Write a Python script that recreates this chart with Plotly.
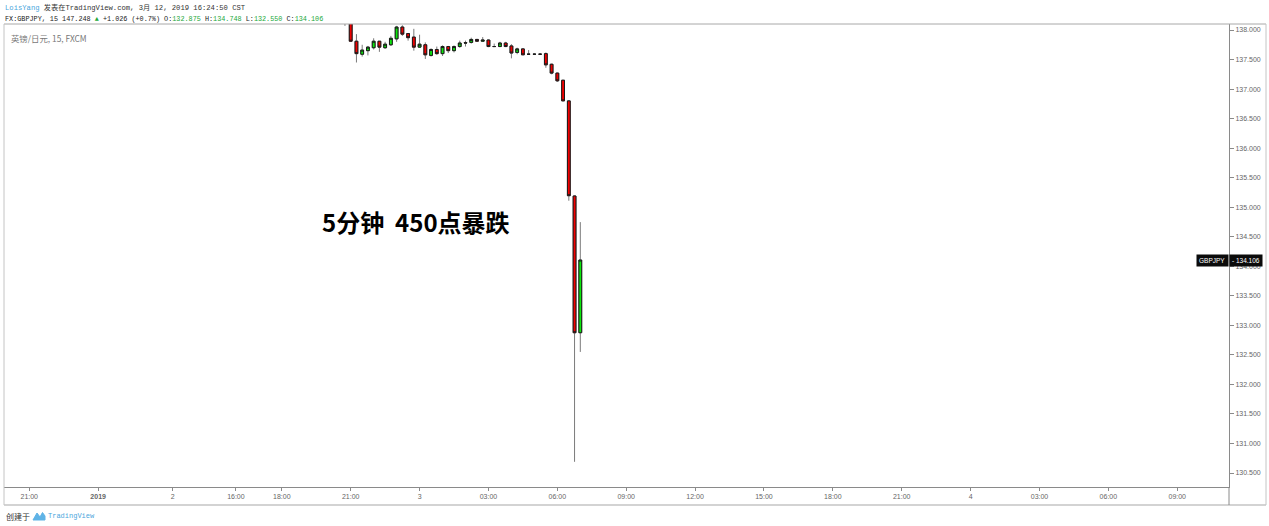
import plotly.graph_objects as go

# ---------------- data ----------------
slots = list(range(-1, 41))  # 15-minute candle slots, slot 0 = 21:00
opens = [138.30, 138.15, 137.81, 137.59, 137.65, 137.70, 137.81, 137.70, 137.75, 137.85, 138.05,
         137.94, 137.88, 137.71, 137.75, 137.57, 137.67, 137.60, 137.72, 137.65, 137.72,
         137.785, 137.79, 137.84, 137.81, 137.83, 137.72, 137.72, 137.78, 137.73, 137.62,
         137.68, 137.59, 137.59, 137.59, 137.60, 137.42, 137.27, 137.15, 136.80, 135.19, 132.875]
highs = [138.40, 138.20, 137.93, 137.75, 137.73, 137.86, 137.81, 137.80, 137.90, 138.07, 138.08,
         137.94, 138.02, 137.92, 137.79, 137.69, 137.72, 137.74, 137.73, 137.74, 137.82,
         137.82, 137.87, 137.85, 137.88, 137.84, 137.77, 137.80, 137.80, 137.76, 137.70,
         137.69, 137.66, 137.61, 137.61, 137.62, 137.43, 137.28, 137.15, 136.81, 135.20, 134.748]
lows = [138.07, 137.80, 137.45, 137.55, 137.57, 137.67, 137.63, 137.68, 137.73, 137.80, 137.90,
        137.82, 137.65, 137.70, 137.51, 137.55, 137.58, 137.56, 137.61, 137.62, 137.70,
        137.72, 137.77, 137.80, 137.81, 137.71, 137.72, 137.71, 137.71, 137.52, 137.59,
        137.58, 137.58, 137.58, 137.58, 137.36, 137.25, 137.12, 136.80, 135.11, 130.69, 132.550]
closes = [138.20, 137.81, 137.60, 137.66, 137.71, 137.81, 137.71, 137.76, 137.86, 138.05, 137.93,
          137.87, 137.71, 137.76, 137.58, 137.67, 137.60, 137.72, 137.65, 137.72, 137.78,
          137.78, 137.84, 137.81, 137.83, 137.72, 137.72, 137.78, 137.72, 137.61, 137.68,
          137.58, 137.59, 137.59, 137.59, 137.41, 137.27, 137.14, 136.80, 135.195, 132.875, 134.106]

time_tick_slots = [-56, -44, -31, -20, -12, 0, 12, 24, 36, 48, 60, 72, 84, 96, 108, 120, 132, 144]
time_tick_labels = ["21:00", "<b>2019</b>", "2", "16:00", "18:00", "21:00", "3", "03:00", "06:00",
                    "09:00", "12:00", "15:00", "18:00", "21:00", "4", "03:00", "06:00", "09:00"]
price_ticks = [130.5, 131.0, 131.5, 132.0, 132.5, 133.0, 133.5, 134.0, 134.5,
               135.0, 135.5, 136.0, 136.5, 137.0, 137.5, 138.0]
last_price = 134.106
symbol = "GBPJPY"

# ---------------- layout helpers ----------------
W, H = 1269, 526
PL, PR, PT, PB = 4, 1229, 24, 487


def px(x):
    return (x - PL) / (PR - PL)


def py(y):
    return (PB - y) / (PB - PT)


GREEN = "#0ce80c"
RED = "#f00000"

body_hi = [max(o, c) for o, c in zip(opens, closes)]
body_lo = [min(o, c) for o, c in zip(opens, closes)]

fig = go.Figure()
# wicks (gray)
fig.add_trace(go.Candlestick(
    x=slots, open=opens, high=highs, low=lows, close=closes,
    increasing=dict(line=dict(color="#7a7a7a", width=1), fillcolor=GREEN),
    decreasing=dict(line=dict(color="#7a7a7a", width=1), fillcolor=RED),
    hoverinfo="skip", showlegend=False))
# bodies with dark border
fig.add_trace(go.Candlestick(
    x=slots, open=opens, high=body_hi, low=body_lo, close=closes,
    increasing=dict(line=dict(color="#1a1a1a", width=1), fillcolor=GREEN),
    decreasing=dict(line=dict(color="#1a1a1a", width=1), fillcolor=RED),
    hoverinfo="skip", showlegend=False))

axis_font = dict(family="Liberation Sans, Arial, sans-serif", size=7, color="#666666")

fig.update_layout(
    width=W, height=H,
    margin=dict(l=PL, r=W - PR, t=PT, b=H - PB, pad=0),
    paper_bgcolor="white", plot_bgcolor="white",
    showlegend=False,
    xaxis=dict(
        range=[(PL - 350.7) / 5.74, (PR - 350.7) / 5.74],
        rangeslider=dict(visible=False),
        tickmode="array", tickvals=time_tick_slots, ticktext=time_tick_labels,
        ticks="outside", ticklen=3, tickcolor="#8a8a8a",
        showgrid=False, zeroline=False, automargin=False,
        showline=True, linecolor="#8a8a8a", linewidth=1,
        tickfont=axis_font,
    ),
    yaxis=dict(
        side="right", range=[138 - (PB - 30) / 59.07, 138 + (30 - PT) / 59.07],
        tickmode="array", tickvals=price_ticks,
        ticktext=[f"{v:.3f}" for v in price_ticks],
        ticks="outside", ticklen=4, tickcolor="#8a8a8a",
        showgrid=False, zeroline=False, automargin=False,
        showline=True, linecolor="#8a8a8a", linewidth=1,
        tickfont=axis_font,
    ),
)

# frame
frame_col = "#c4c4c4"
shapes = [
    dict(type="line", xref="paper", yref="paper", x0=px(4), x1=px(1266), y0=py(24), y1=py(24),
         line=dict(color="#a8a8a8", width=1)),
    dict(type="line", xref="paper", yref="paper", x0=px(4), x1=px(4), y0=py(24), y1=py(505),
         line=dict(color=frame_col, width=1)),
    dict(type="line", xref="paper", yref="paper", x0=px(1266), x1=px(1266), y0=py(24), y1=py(505),
         line=dict(color=frame_col, width=1)),
    dict(type="line", xref="paper", yref="paper", x0=px(4), x1=px(1266), y0=py(505), y1=py(505),
         line=dict(color=frame_col, width=1.5)),
    dict(type="line", xref="paper", yref="paper", x0=px(1229), x1=px(1229), y0=py(487), y1=py(505),
         line=dict(color="#8a8a8a", width=1)),
    # TradingView logo
    dict(type="path", xref="paper", yref="paper",
         path=(f"M {px(33)},{py(520)} L {px(37)},{py(513)} L {px(40)},{py(517)} "
               f"L {px(42.5)},{py(512.5)} L {px(45)},{py(516)} L {px(45)},{py(520)} Z"),
         fillcolor="#5fb3e6", line=dict(color="#5fb3e6", width=1)),
]
fig.update_layout(shapes=shapes)

mono = "Liberation Mono, DejaVu Sans Mono, Noto Sans CJK SC, monospace"
green_txt = "#22a839"
ann = [
    dict(xref="paper", yref="paper", x=px(3), y=py(7.5), xanchor="left", yanchor="middle",
         showarrow=False, font=dict(family=mono, size=7.2, color="#333"),
         text="<span style='color:#4ba6dc'>LoisYang</span> 发表在TradingView.com, 3月 12, 2019 16:24:50 CST"),
    dict(xref="paper", yref="paper", x=px(3), y=py(19), xanchor="left", yanchor="middle",
         showarrow=False, font=dict(family=mono, size=6.8, color="#222"),
         text=(f"FX:GBPJPY, 15 147.248 <span style='color:{green_txt}'>▲</span> +1.026 (+0.7%) "
               f"O:<span style='color:{green_txt}'>132.875</span> H:<span style='color:{green_txt}'>134.748</span> "
               f"L:<span style='color:{green_txt}'>132.550</span> C:<span style='color:{green_txt}'>134.106</span>")),
    dict(xref="paper", yref="paper", x=px(9), y=py(38), xanchor="left", yanchor="middle",
         showarrow=False, font=dict(family="Noto Sans CJK SC, Liberation Sans", size=8.4, color="#777"),
         text="英镑/日元, 15, FXCM"),
    dict(xref="paper", yref="paper", x=px(416), y=py(222), xanchor="center", yanchor="middle",
         showarrow=False, font=dict(family="Noto Sans CJK SC, Liberation Sans", size=24, color="#000"),
         text="<b>5分钟\u00a0\u00a0450点暴跌</b>"),
    dict(xref="paper", yref="y", x=1, y=last_price, xanchor="right", yanchor="middle",
         showarrow=False, bgcolor="#0b0b0b", borderpad=2,
         font=dict(family="Liberation Sans, Arial", size=6.5, color="white"), text=f"{symbol} "),
    dict(xref="paper", yref="y", x=1, y=last_price, xanchor="left", yanchor="middle",
         showarrow=False, bgcolor="#0b0b0b", borderpad=2,
         font=dict(family="Liberation Sans, Arial", size=6.5, color="white"), text=f"- {last_price:.3f}"),
    dict(xref="paper", yref="paper", x=px(4), y=py(516), xanchor="left", yanchor="middle",
         showarrow=False, font=dict(family="Noto Sans CJK SC", size=8, color="#333"), text="创建于"),
    dict(xref="paper", yref="paper", x=px(46), y=py(516), xanchor="left", yanchor="middle",
         showarrow=False, font=dict(family=mono, size=7, color="#4ba6dc"), text="TradingView"),
]
fig.update_layout(annotations=ann)

fig.write_html("out.html", config={"displayModeBar": False},
               post_script="document.body.style.margin='0';document.body.style.padding='0';")
